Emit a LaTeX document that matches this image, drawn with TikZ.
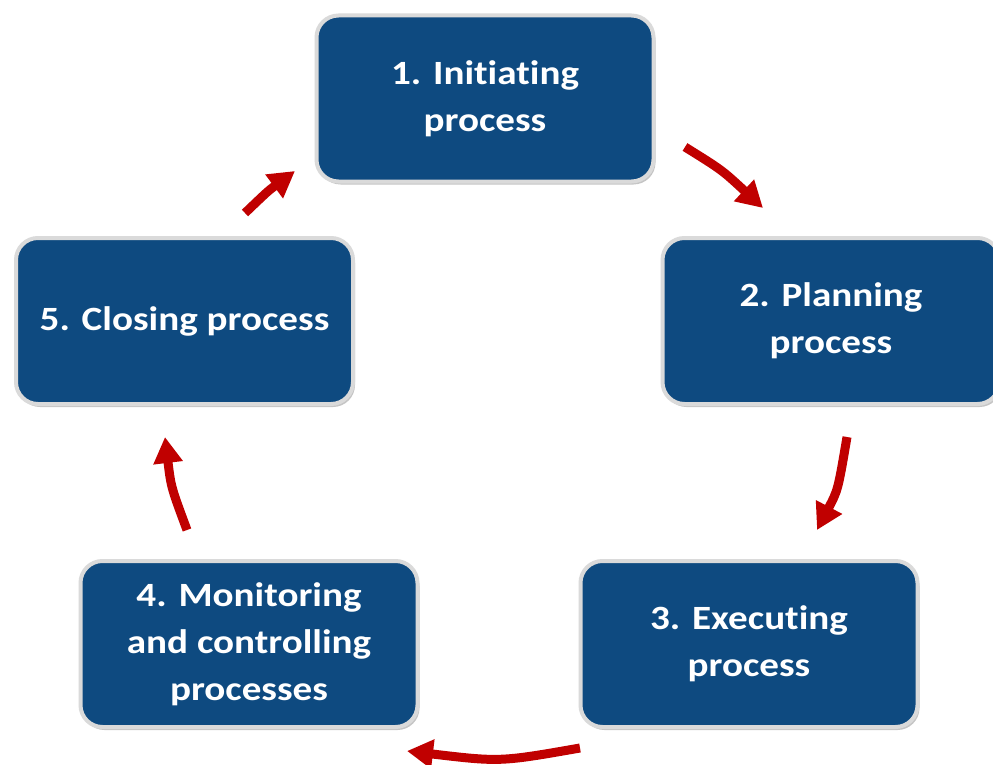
\documentclass[tikz,border=0pt]{standalone}
\usepackage{fontspec}
\setmainfont{Carlito}[FakeStretch=1.15, RawFeature=-liga]
\usetikzlibrary{arrows.meta,shadows}
\definecolor{boxblue}{HTML}{0E4A80}
\definecolor{arrowred}{HTML}{C00000}
\definecolor{rimgray}{HTML}{DADADA}
\begin{document}
\begin{tikzpicture}[x=1pt,y=-1pt,
  procbox/.style={rectangle, rounded corners=22pt, fill=boxblue, draw=rimgray,
    line width=4pt, minimum width=337pt, minimum height=166pt, text=white,
    font=\fontsize{34}{47}\selectfont\bfseries, align=center,
    drop shadow={shadow xshift=2pt, shadow yshift=-3pt, opacity=0.45}},
  cyc/.style={draw=arrowred, line width=9pt, -{Triangle[width=28pt,length=26pt]}}]
\useasboundingbox[fill=white] (0,0) rectangle (993,765);
\node[procbox] (p1) at (485,98.5) {1. Initiating\\process};
\node[procbox] (p2) at (831,321) {2. Planning\\process};
\node[procbox] (p3) at (749,644) {3. Executing\\process};
\node[procbox] (p4) at (249,644) {4. Monitoring\\and controlling\\processes};
\node[procbox] (p5) at (184.5,321) {5. Closing process};
\coordinate (a1s) at (685,147); \coordinate (a1e) at (763,208);
\coordinate (a2s) at (847,437); \coordinate (a2e) at (817,530);
\coordinate (a3s) at (580,748); \coordinate (a3e) at (407,751);
\coordinate (a4s) at (187,530); \coordinate (a4e) at (165,437);
\coordinate (a5s) at (245,213); \coordinate (a5e) at (295,171);
\draw[cyc] (a1s) .. controls (722,170) .. (a1e);
\draw[cyc] (a2s) .. controls (838,490) .. (a2e);
\draw[cyc] (a3s) .. controls (500,762) .. (a3e);
\draw[cyc] (a4s) .. controls (171,487) .. (a4e);
\draw[cyc] (a5s) .. controls (268,191) .. (a5e);
\end{tikzpicture}
\end{document}
